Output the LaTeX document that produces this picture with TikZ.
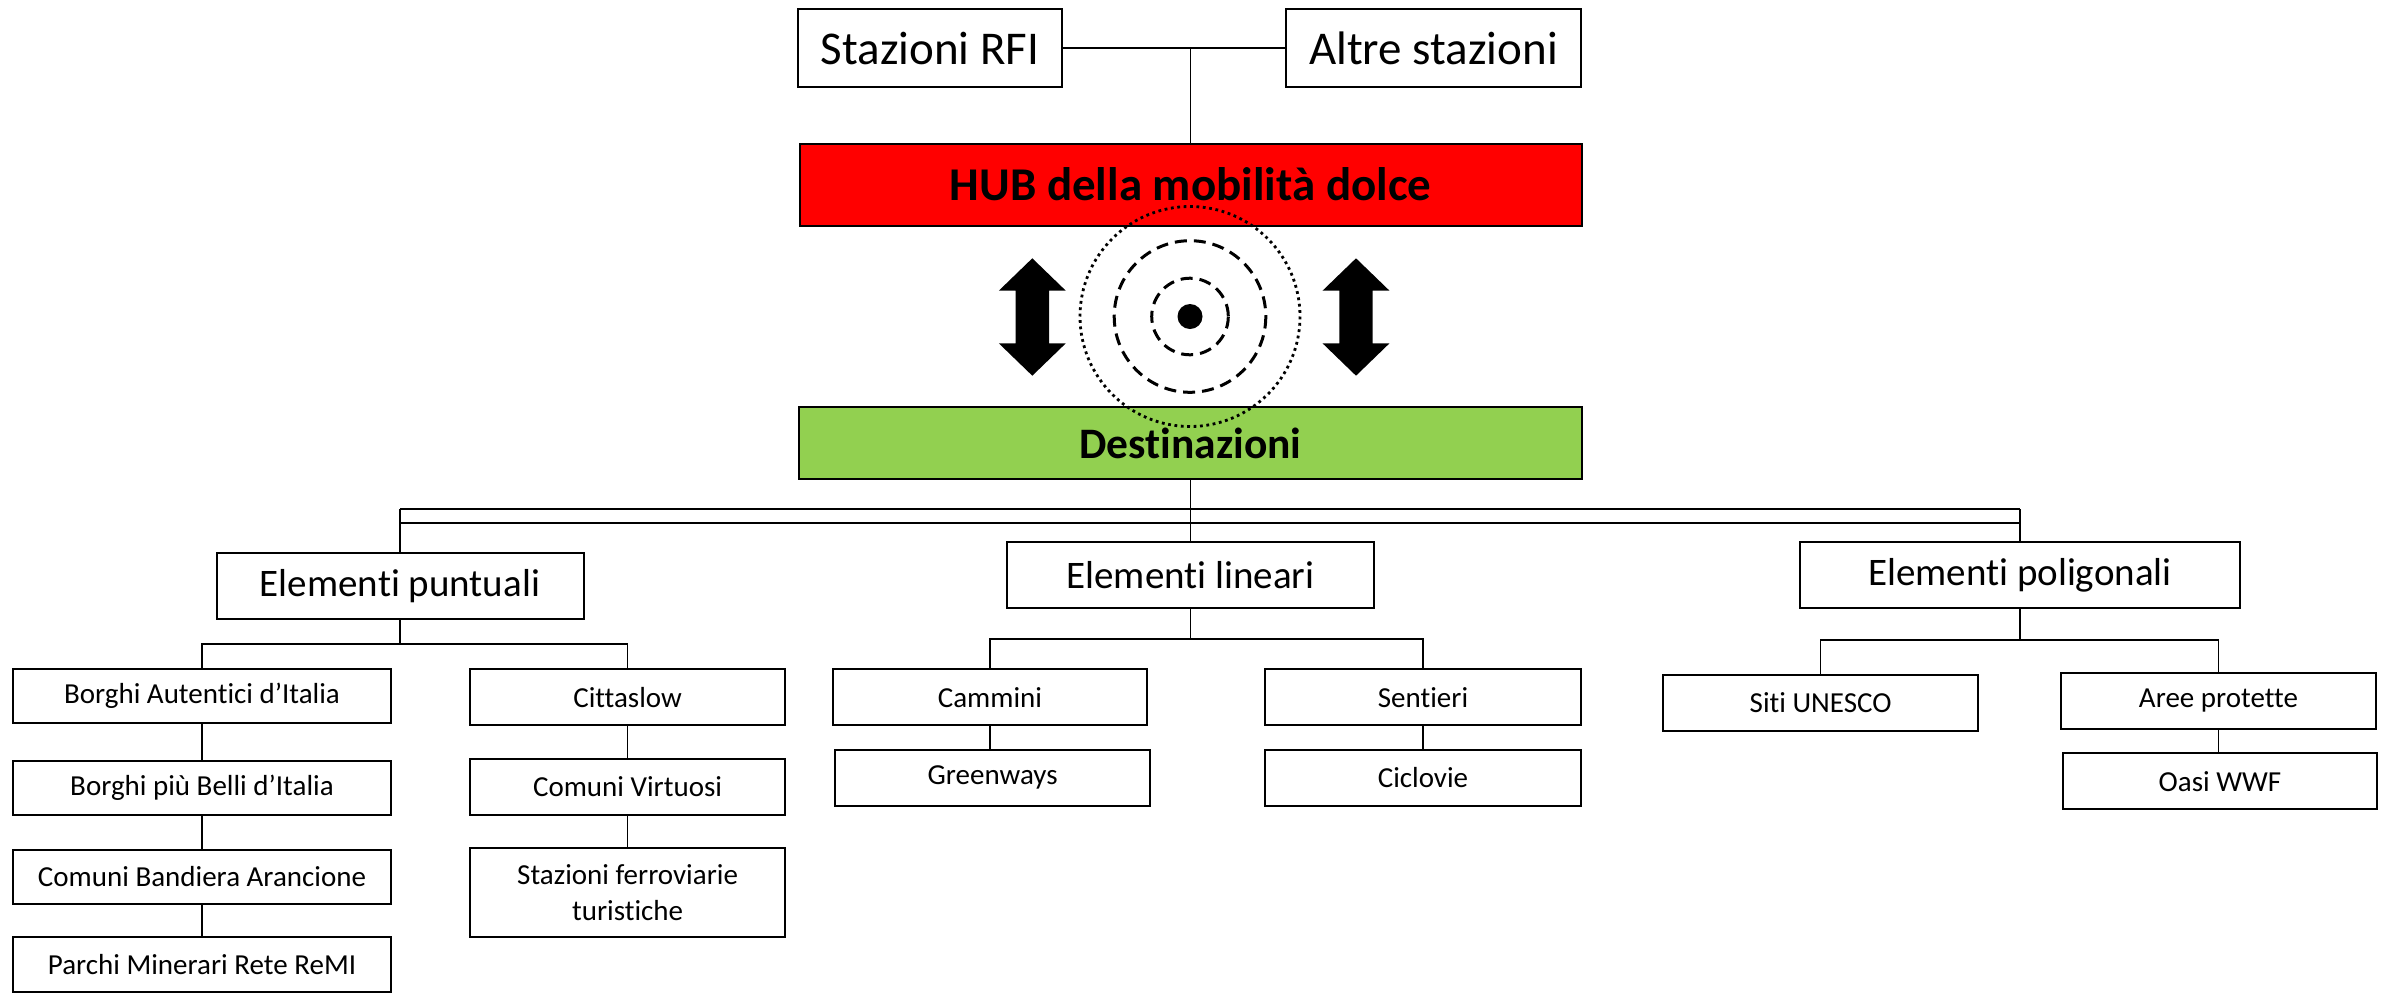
\documentclass[tikz,border=0pt]{standalone}
\usepackage{fontspec}
\setmainfont{Carlito}[Ligatures={NoCommon,NoContextual,NoRequired}, RawFeature=-liga, RawFeature=-clig, RawFeature=-calt, RawFeature=-dlig]
\definecolor{hubred}{HTML}{FF0000}
\definecolor{destgreen}{HTML}{92D050}
\begin{document}
\begin{tikzpicture}[x=1pt,y=-1pt,
  box/.style={draw=black, line width=2pt, fill=white, inner sep=0pt, anchor=center},
  big/.style={font=\fontsize{47}{56}\selectfont},
  mid/.style={font=\fontsize{39}{47}\selectfont},
  small/.style={font=\fontsize{29}{36.5}\selectfont},
  conn/.style={draw=black, line width=1.6pt},
  dotcirc/.style={draw=black, line width=2.8pt, dash pattern=on 2.8pt off 3.6pt},
  dashcirc/.style={draw=black, line width=3pt, dash pattern=on 12pt off 7pt},
  blockarrow/.style={fill=black, draw=none}]
\useasboundingbox (0,0) rectangle (2382,994);
\fill[white] (0,0) rectangle (2382,994);

% top row
\node[box, big, minimum width=264pt, minimum height=78pt] (rfi) at (930,48) {Stazioni RFI};
\node[box, big, minimum width=295pt, minimum height=78pt] (altre) at (1433.5,48) {Altre stazioni};
\node[box, fill=hubred, font=\fontsize{47}{56}\selectfont\bfseries, minimum width=782pt, minimum height=82pt] (hub) at (1190.5,184.5) {HUB della mobilità dolce};
\node[box, fill=destgreen, font=\fontsize{43.5}{52}\selectfont\bfseries, minimum width=782.5pt, minimum height=72pt] (dest) at (1190.5,443) {Destinazioni};

% level 2
\node[box, mid, minimum width=367pt, minimum height=66pt] (ep) at (400,585.7) {Elementi puntuali};
\node[box, mid, minimum width=367.4pt, minimum height=66pt] (el) at (1190.5,575.4) {Elementi lineari};
\node[box, mid, minimum width=440pt, minimum height=65.5pt] (epol) at (2020,575.2) {Elementi poligonali};

% puntuali
\node[box, small, minimum width=377.5pt, minimum height=54.3pt] (ba) at (202,696.2) {Borghi Autentici d’Italia};
\node[box, small, minimum width=377.5pt, minimum height=54.3pt] (bb) at (202,787.8) {Borghi più Belli d’Italia};
\node[box, small, minimum width=377.5pt, minimum height=54.3pt] (cb) at (202,876.7) {Comuni Bandiera Arancione};
\node[box, small, minimum width=377.5pt, minimum height=54.3pt] (pm) at (202,964.5) {Parchi Minerari Rete ReMI};
\node[box, small, minimum width=314.3pt, minimum height=56pt] (cs) at (627.6,697.3) {Cittaslow};
\node[box, small, minimum width=314.3pt, minimum height=56pt] (cv) at (627.6,787) {Comuni Virtuosi};
\node[box, small, align=center, minimum width=314.3pt, minimum height=89pt] (sf) at (627.6,892.8) {Stazioni ferroviarie\\turistiche};

% lineari
\node[box, small, minimum width=314.3pt, minimum height=56pt] (cam) at (990,697.3) {Cammini};
\node[box, small, minimum width=314.8pt, minimum height=56pt] (gw) at (992.6,777.7) {Greenways};
\node[box, small, minimum width=315.3pt, minimum height=56pt] (sen) at (1423,697.3) {Sentieri};
\node[box, small, minimum width=315.3pt, minimum height=56pt] (cic) at (1423,777.7) {Ciclovie};

% poligonali
\node[box, small, minimum width=314.7pt, minimum height=56pt] (unesco) at (1820.6,702.7) {Siti UNESCO};
\node[box, small, minimum width=315.2pt, minimum height=56pt] (aree) at (2218.4,700.7) {Aree protette};
\node[box, small, minimum width=314.2pt, minimum height=56pt] (oasi) at (2220,781.3) {Oasi WWF};

% connectors top
\coordinate (jt) at (1190.5,48);
\draw[conn] (rfi.east) -- (altre.west);
\draw[conn] (jt) -- (hub.north);
\draw[conn] (dest.south) -- (el.north);

% double bus under Destinazioni
\coordinate (bl1) at (400,509);
\coordinate (br1) at (2020,509);
\coordinate (bl2) at (400,523);
\coordinate (br2) at (2020,523);
\draw[conn] (bl1) -- (br1);
\draw[conn] (bl2) -- (br2);
\draw[conn] (bl1) -- (ep.north);
\draw[conn] (br1) -- (epol.north);

% puntuali tree
\coordinate (pj) at (400,644);
\draw[conn] (ep.south) -- (pj);
\draw[conn] (ba.north) |- (pj) -| (cs.north);
\draw[conn] (ba.south) -- (bb.north);
\draw[conn] (bb.south) -- (cb.north);
\draw[conn] (cb.south) -- (pm.north);
\draw[conn] (cs.south) -- (cv.north);
\draw[conn] (cv.south) -- (sf.north);

% lineari tree
\coordinate (lj) at (1190.5,639);
\draw[conn] (el.south) -- (lj);
\draw[conn] (cam.north) |- (lj) -| (sen.north);
\draw[conn] (cam.south) -- (cam.south |- gw.north);
\draw[conn] (sen.south) -- (cic.north);

% poligonali tree
\coordinate (gj) at (2020,640);
\draw[conn] (epol.south) -- (gj);
\draw[conn] (unesco.north) |- (gj) -| (aree.north);
\draw[conn] (aree.south) -- (aree.south |- oasi.north);

% concentric circles
\coordinate (ctr) at (1190,316.5);
\draw[dotcirc] (ctr) circle[radius=110];
\draw[dashcirc] (ctr) circle[radius=75.8];
\draw[dashcirc] (ctr) circle[radius=38.3];
\fill[black] (ctr) circle[radius=12.5];

% block double arrows
\foreach \cx in {1032.3,1356} {
  \fill[blockarrow] (\cx,258.3) -- (\cx+33.4,290.6) -- (\cx+16.7,290.6) -- (\cx+16.7,343.4)
    -- (\cx+33.4,343.4) -- (\cx,375.7) -- (\cx-33.4,343.4) -- (\cx-16.7,343.4)
    -- (\cx-16.7,290.6) -- (\cx-33.4,290.6) -- cycle;
}
\end{tikzpicture}
\end{document}
